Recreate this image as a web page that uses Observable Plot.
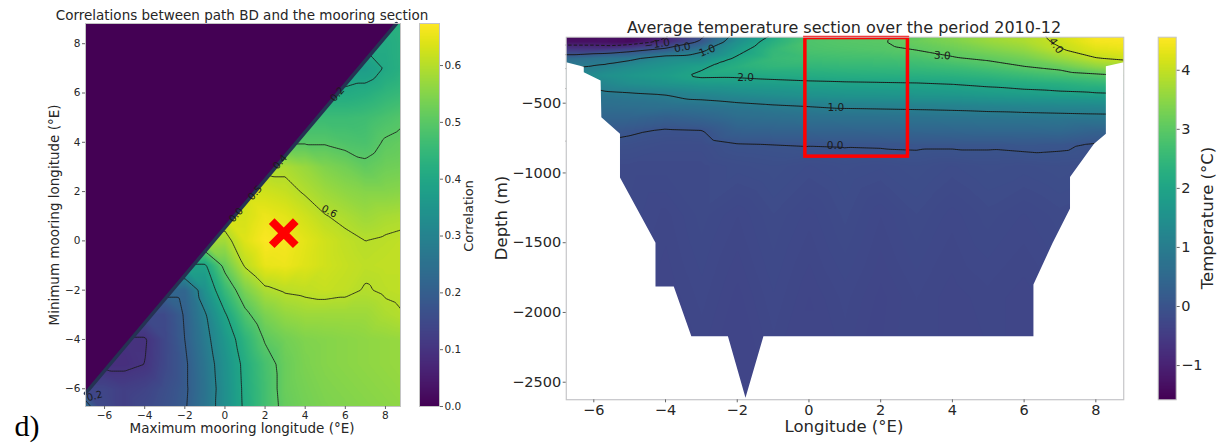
<!DOCTYPE html>
<html><head><meta charset="utf-8">
<script src="https://cdn.jsdelivr.net/npm/d3@7"></script>
<script src="https://cdn.jsdelivr.net/npm/@observablehq/plot@0.6"></script>
<style>
body{margin:0;background:#fff;}
#root{position:relative;width:1223px;height:443px;overflow:hidden;font-family:"DejaVu Sans",sans-serif;color:#262626;}
.box{position:absolute;top:0;}
.txt{position:absolute;white-space:nowrap;transform:translate(-50%,-50%);line-height:1;}
.rot{transform:translate(-50%,-50%) rotate(-90deg);}
</style></head><body><div id="root"></div>
<script>
// ---------------- Left panel: correlation field (rows by min longitude y, values for x = y..9) ----------------
const corrYs = [-7,-6,-5,-4,-3,-2,-1,0,1,2,3,4,5,6,7,8,9];
const corrRows = [
  [0.28,0.15,0.125,0.15,0.17,0.195,0.26,0.335,0.41,0.47,0.515,0.53,0.54,0.545,0.55,0.555,0.56],
  [0.14,0.125,0.135,0.16,0.19,0.255,0.335,0.413,0.47,0.52,0.535,0.545,0.55,0.555,0.56,0.565],
  [0.09,0.1,0.146,0.19,0.262,0.341,0.417,0.476,0.52,0.54,0.55,0.555,0.56,0.565,0.57],
  [0.095,0.145,0.2,0.277,0.358,0.437,0.505,0.53,0.545,0.55,0.555,0.56,0.565,0.57],
  [0.15,0.205,0.293,0.393,0.485,0.54,0.565,0.575,0.575,0.575,0.575,0.59,0.6],
  [0.22,0.341,0.452,0.54,0.59,0.605,0.61,0.615,0.61,0.597,0.605,0.61],
  [0.39,0.52,0.605,0.65,0.655,0.64,0.625,0.615,0.607,0.61,0.61],
  [0.58,0.64,0.67,0.665,0.645,0.625,0.61,0.6,0.605,0.61],
  [0.63,0.655,0.645,0.625,0.602,0.59,0.575,0.585,0.59],
  [0.625,0.615,0.595,0.575,0.56,0.55,0.55,0.555],
  [0.59,0.57,0.545,0.53,0.51,0.525,0.53],
  [0.495,0.495,0.485,0.48,0.505,0.515],
  [0.46,0.46,0.465,0.48,0.495],
  [0.41,0.42,0.44,0.455],
  [0.37,0.405,0.43],
  [0.41,0.43],
  [0.42]
];
// values just under the masked band, at x = y - 1 for each row
const corrEdgeValues = [0.28,0.14,0.09,0.095,0.15,0.22,0.39,0.58,0.63,0.625,0.59,0.495,0.46,0.41,0.37,0.41,0.42];
const corrLevels = [0.1,0.2,0.3,0.4,0.5,0.6];
const corrTicks = [-6,-4,-2,0,2,4,6,8];
const corrXDomain = [-6.95, 8.75];
const corrYDomain = [-6.72, 8.82];
const corrColorDomain = [0, 0.674];
const corrCbarTicks = [0,0.1,0.2,0.3,0.4,0.5,0.6];
const maskEdgeX = [-6.95, 8.55];
const maskEdgeY = [-6.19, 8.82];
const bestX = [2.93], bestY = [0.31];
const corrLabelText = ["0.6","0.0","0.5","0.4","0.2","0.2"];
const corrLabelX = [5.2, 0.55, 1.5, 2.75, 5.6, -6.5];
const corrLabelY = [1.2, 1.05, 1.95, 3.2, 5.95, -6.3];
const corrLabelAngle = [28, -49, -49, -49, -49, -15];

// ---------------- Right panel: temperature section ----------------
const tempLon = [-7,-6,-5,-4,-3,-2,-1,0,1,2,3,4,5,6,7,8,9];
const tempDepth = [0,-60,-120,-180,-240,-300,-360,-440,-520,-600,-700,-800,-950,-1300,-1900,-2650];
const tempRows = [
  [-1.55,-1.5,-1.4,-1.15,-0.2,1.2,2.0,2.8,2.9,2.93,2.98,3.45,3.75,3.85,4.12,4.55,4.6],
  [-1.3,-1.3,-1.4,-0.85,0.1,1.5,2.3,2.85,2.93,2.97,3.15,3.35,3.6,3.78,4.08,4.45,4.5],
  [-0.5,-0.55,-0.2,0.25,0.85,1.8,2.5,2.8,2.85,2.9,3.0,3.15,3.35,3.55,3.95,4.25,4.35],
  [0.45,0.75,0.87,1.35,1.45,2.1,2.55,2.65,2.7,2.72,2.78,2.95,3.07,3.25,3.6,3.97,4.1],
  [0.9,1.05,1.4,1.65,1.92,2.3,2.45,2.45,2.5,2.52,2.56,2.65,2.8,2.98,3.15,3.5,3.7],
  [1.15,1.4,1.65,1.8,2.1,2.08,2.15,2.2,2.25,2.28,2.3,2.35,2.45,2.6,2.75,2.9,3.05],
  [1.1,1.15,1.45,1.6,1.75,1.8,1.85,1.9,1.93,1.95,1.97,2.02,2.1,2.2,2.3,2.45,2.55],
  [0.85,0.8,0.9,1.0,1.2,1.35,1.45,1.55,1.6,1.62,1.65,1.68,1.75,1.8,1.85,1.9,1.95],
  [0.6,0.6,0.65,0.7,0.75,0.85,0.95,1.02,1.08,1.1,1.12,1.15,1.2,1.25,1.28,1.3,1.33],
  [0.4,0.4,0.4,0.3,0.4,0.6,0.65,0.7,0.72,0.73,0.75,0.77,0.8,0.82,0.85,0.88,0.9],
  [0.15,0.12,0.05,-0.05,-0.02,0.3,0.33,0.35,0.37,0.38,0.4,0.42,0.45,0.45,0.48,0.35,0.3],
  [-0.05,-0.05,-0.1,-0.15,-0.15,-0.03,-0.01,0.01,0.02,0.03,0.04,0.04,0.04,0.07,0.05,-0.05,-0.08],
  [-0.2,-0.2,-0.2,-0.2,-0.2,-0.15,-0.12,-0.17,-0.13,-0.16,-0.12,-0.17,-0.13,-0.15,-0.12,-0.15,-0.15],
  [-0.25,-0.25,-0.22,-0.27,-0.2,-0.26,-0.19,-0.25,-0.18,-0.26,-0.19,-0.25,-0.2,-0.24,-0.2,-0.2,-0.2],
  [-0.3,-0.3,-0.27,-0.31,-0.25,-0.32,-0.24,-0.31,-0.25,-0.32,-0.26,-0.3,-0.27,-0.3,-0.25,-0.25,-0.25],
  [-0.3,-0.3,-0.3,-0.3,-0.31,-0.33,-0.3,-0.3,-0.3,-0.3,-0.3,-0.3,-0.3,-0.3,-0.3,-0.3,-0.3]
];
const tempNegLevels = [-1];
const tempPosLevels = [0,1,2,3,4];
const tempXTicks = [-6,-4,-2,0,2,4,6,8];
const tempYTicks = [-2500,-2000,-1500,-1000,-500];
const tempXDomain = [-6.77, 8.78];
const tempYDomain = [-2626, -27];
const tempColorDomain = [-1.58, 4.56];
const tempCbarTicks = [-1,0,1,2,3,4];
const bathyLon = [-6.77,-6.28,-6.28,-5.81,-5.79,-5.27,-5.27,-4.28,-4.28,-3.77,-3.28,-2.26,-1.77,-1.27,6.26,6.26,6.79,7.28,7.28,7.95,8.28,8.28,8.78];
const bathyDepth = [-207,-238,-279,-338,-600,-719,-1033,-1500,-1814,-1814,-2171,-2171,-2611,-2171,-2171,-1800,-1504,-1254,-1029,-790,-719,-235,-207];
const boxLon = [-0.1, 2.76];
const boxDepth = [-883, -33];
const tempLabelText = ["−1.0","0.0","1.0","2.0","1.0","0.0","3.0","4.0"];
const tempLabelLon = [-4.23,-3.53,-2.84,-1.77,0.75,0.73,3.72,6.89];
const tempLabelDepth = [-76,-100,-124,-318,-533,-807,-159,-88];
const tempLabelAngle = [-8,-10,-22,0,0,0,4,55];

// ---------------- build ----------------
const root = document.getElementById("root");
function place(node, left) {
  const d = document.createElement("div"); d.className = "box"; d.style.left = left + "px";
  d.appendChild(node); root.appendChild(d);
}
function label(text, cx, cy, size, rotate, extra) {
  const d = document.createElement("div");
  d.className = "txt" + (rotate ? " rot" : "");
  d.style.left = cx + "px"; d.style.top = cy + "px"; d.style.fontSize = size + "px";
  if (extra) Object.assign(d.style, extra);
  d.textContent = text; root.appendChild(d);
}
const baseStyle = {fontFamily: "DejaVu Sans, sans-serif", color: "#262626", background: "none", overflow: "visible"};

const corrData = corrRows.flatMap((row, i) => row.map((v, j) => ({x: corrYs[i] + j, y: corrYs[i], v})))
  .concat(corrEdgeValues.map((v, i) => ({x: corrYs[i] - 1, y: corrYs[i], v})));
const edge = maskEdgeX.map((x, i) => ({x, y: maskEdgeY[i], top: corrYDomain[1]}));
const corrLabels = corrLabelText.map((t, i) => ({t, x: corrLabelX[i], y: corrLabelY[i], a: corrLabelAngle[i]}));
const best = bestX.map((x, i) => ({x, y: bestY[i]}));

const left = Plot.plot({
  width: 480, height: 443, marginLeft: 85, marginRight: 80, marginTop: 23, marginBottom: 37,
  style: {...baseStyle, fontSize: "10.5px"},
  x: {domain: corrXDomain}, y: {domain: corrYDomain},
  color: {type: "linear", scheme: "viridis", domain: corrColorDomain, clamp: true},
  marks: [
    Plot.raster(corrData, {x: "x", y: "y", fill: "v", interpolate: "barycentric"}),
    Plot.contour(corrData, {x: "x", y: "y", value: "v", interpolate: "barycentric", thresholds: corrLevels,
      x1: -7.5, x2: 9.5, y1: -7.5, y2: 9.5, clip: "frame",
      stroke: "#1a1a1a", strokeWidth: 1, strokeOpacity: 0.85, fill: "none"}),
    Plot.areaY(edge, {x: "x", y1: "y", y2: "top", fill: "#440154"}),
    Plot.line(edge, {x: "x", y: "y", stroke: "#253353", strokeWidth: 3.5}),
    Plot.text(corrLabels, {x: "x", y: "y", text: "t", rotate: "a", fontSize: 10, fill: "#1a1a1a"}),
    Plot.dot(best, {x: "x", y: "y", symbol: "times", r: 11, stroke: "#ff0000", strokeWidth: 8}),
    Plot.frame({stroke: "#c4c4c4"}),
    Plot.axisX({ticks: corrTicks, tickSize: 3, tickPadding: 2, label: null, stroke: "#666"}),
    Plot.axisY({ticks: corrTicks, tickSize: 3, tickPadding: 2, label: null, stroke: "#666"})
  ]
});
place(left, 0);

function colorbar(domain, ticks, fmt, width, barW, mL, mT, mB, fs) {
  return Plot.plot({
    width, height: 443, marginLeft: mL, marginRight: width - mL - barW, marginTop: mT, marginBottom: mB,
    style: {...baseStyle, fontSize: fs + "px"},
    x: {domain: [0, 1], axis: null}, y: {domain},
    color: {type: "linear", scheme: "viridis", domain},
    marks: [
      Plot.raster({x1: 0, x2: 1, y1: domain[0], y2: domain[1], fill: (x, y) => y}),
      Plot.frame({stroke: "#c4c4c4"}),
      Plot.axisY({anchor: "right", ticks, tickFormat: fmt, tickSize: 3, tickPadding: 2, label: null, stroke: "#666"})
    ]
  });
}
place(colorbar(corrColorDomain, corrCbarTicks, d3.format(".1f"), 80, 20, 19, 23, 37, 10.5), 400);

const tempData = tempDepth.flatMap((d, i) => tempLon.map((lon, j) => ({lon, depth: d, t: tempRows[i][j]})));
const maskPoly = bathyLon.map((lon, i) => ({lon, depth: bathyDepth[i]}))
  .concat([{lon: tempXDomain[1], depth: tempYDomain[0]}, {lon: tempXDomain[0], depth: tempYDomain[0]}]);
const tempLabels = tempLabelText.map((t, i) => ({t, lon: tempLabelLon[i], depth: tempLabelDepth[i], a: tempLabelAngle[i]}));
const box = [{x1: boxLon[0], x2: boxLon[1], y1: boxDepth[0], y2: boxDepth[1]}];
const contourExtent = {x1: tempLon[0], x2: tempLon[tempLon.length - 1], y1: tempDepth[tempDepth.length - 1], y2: tempDepth[0], clip: "frame"};

const right = Plot.plot({
  width: 700, height: 443, marginLeft: 85.7, marginRight: 56.7, marginTop: 36.7, marginBottom: 43.7,
  style: {...baseStyle, fontSize: "14.5px"},
  x: {domain: tempXDomain}, y: {domain: tempYDomain},
  color: {type: "linear", scheme: "viridis", domain: tempColorDomain, clamp: true},
  marks: [
    Plot.raster(tempData, {x: "lon", y: "depth", fill: "t", interpolate: "barycentric"}),
    Plot.contour(tempData, {x: "lon", y: "depth", value: "t", interpolate: "barycentric", thresholds: tempNegLevels, ...contourExtent, stroke: "#1a1a1a", strokeWidth: 1, strokeDasharray: "3.5,2", fill: "none"}),
    Plot.contour(tempData, {x: "lon", y: "depth", value: "t", interpolate: "barycentric", thresholds: tempPosLevels, ...contourExtent, stroke: "#1a1a1a", strokeWidth: 1, fill: "none"}),
    Plot.line(maskPoly, {x: "lon", y: "depth", fill: "white", stroke: "none", curve: "linear-closed"}),
    Plot.text(tempLabels, {x: "lon", y: "depth", text: "t", rotate: "a", fontSize: 10.5, fill: "#1a1a1a"}),
    Plot.rect(box, {x1: "x1", x2: "x2", y1: "y1", y2: "y2", fill: "none", stroke: "#ff0000", strokeWidth: 3.5}),
    Plot.frame({stroke: "#c4c4c4"}),
    Plot.axisX({ticks: tempXTicks, tickSize: 3, tickPadding: 2, label: null, stroke: "#666"}),
    Plot.axisY({ticks: tempYTicks, tickFormat: d3.format("d"), tickSize: 3, tickPadding: 2, label: null, stroke: "#666"})
  ]
});
place(right, 480);

place(colorbar(tempColorDomain, tempCbarTicks, d3.format("d"), 83, 18, 17.7, 36.7, 43.7, 14.5), 1140);

// text labels
label("Correlations between path BD and the mooring section", 242, 15.5, 13.5);
label("Maximum mooring longitude (°E)", 242, 429, 13.5);
label("Minimum mooring longitude (°E)", 55, 214.5, 13.5, true);
label("Correlation", 468, 216, 13, true);
label("Average temperature section over the period 2010-12", 844, 27.5, 16);
label("Depth (m)", 502, 218, 16.5, true);
label("Longitude (°E)", 844, 427, 16.5);
label("Temperature (°C)", 1208, 218, 16.5, true);
label("d)", 27, 426, 30, false, {fontFamily: "'Liberation Serif', 'DejaVu Serif', serif", color: "#000"});
</script></body></html>
